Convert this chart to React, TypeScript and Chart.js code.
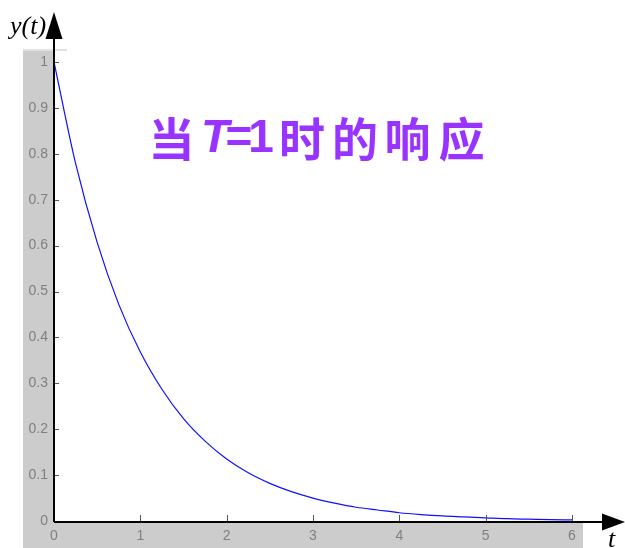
import React, { useEffect, useRef } from "react";
import { Chart, registerables } from "chart.js";

Chart.register(...registerables);

const tValues = [0, 0.25, 0.5, 0.75, 1, 1.25, 1.5, 1.75, 2, 2.25, 2.5, 2.75, 3, 3.25, 3.5, 3.75, 4, 4.25, 4.5, 4.75, 5, 5.25, 5.5, 5.75, 6];
const yValues = [1, 0.779, 0.607, 0.472, 0.368, 0.287, 0.223, 0.174, 0.135, 0.105, 0.082, 0.064, 0.05, 0.039, 0.03, 0.024, 0.018, 0.014, 0.011, 0.009, 0.007, 0.005, 0.004, 0.003, 0.0025];

const xTicks = [0, 1, 2, 3, 4, 5, 6];
const yTicks = [0, 0.1, 0.2, 0.3, 0.4, 0.5, 0.6, 0.7, 0.8, 0.9, 1];

const titleParts = [
  { text: "当", latin: false, italic: false },
  { text: "T", latin: true, italic: true },
  { text: "=", latin: true, italic: false },
  { text: "1", latin: true, italic: false },
  { text: "时", latin: false, italic: false },
  { text: "的", latin: false, italic: false },
  { text: "响", latin: false, italic: false },
  { text: "应", latin: false, italic: false },
];
const titleCenters = [171.5, 215, 239, 261, 302, 355, 407.5, 461.5];

const W = 625;
const H = 548;

const decorPlugin = {
  id: "decor",
  beforeDraw(chart: any) {
    const ctx = chart.ctx;
    const a = chart.chartArea;
    ctx.save();
    ctx.fillStyle = "#ffffff";
    ctx.fillRect(0, 0, W, H);
    ctx.fillStyle = "#cccccc";
    ctx.fillRect(23, 50, a.left - 23, H - 50);
    ctx.fillRect(23, a.bottom, 583 - 23, H - a.bottom);
    ctx.fillStyle = "#e2e2e2";
    ctx.fillRect(23, 49, 44, 2);
    ctx.restore();
  },
  afterDraw(chart: any) {
    const ctx = chart.ctx;
    const a = chart.chartArea;
    const xs = chart.scales.x;
    const ys = chart.scales.y;
    ctx.save();
    ctx.strokeStyle = "#555555";
    ctx.lineWidth = 1;
    ctx.beginPath();
    yTicks.forEach((v) => {
      const py = Math.round(ys.getPixelForValue(v)) + 0.5;
      ctx.moveTo(a.left, py);
      ctx.lineTo(a.left + 5, py);
    });
    xTicks.forEach((v) => {
      const px = Math.round(xs.getPixelForValue(v)) + 0.5;
      ctx.moveTo(px, a.bottom);
      ctx.lineTo(px, a.bottom - 6);
    });
    ctx.stroke();

    ctx.strokeStyle = "#000000";
    ctx.lineWidth = 2;
    ctx.beginPath();
    ctx.moveTo(a.left, a.bottom + 1);
    ctx.lineTo(604, a.bottom + 1);
    ctx.moveTo(a.left, a.bottom + 1);
    ctx.lineTo(a.left, 38);
    ctx.stroke();

    ctx.fillStyle = "#000000";
    ctx.beginPath();
    ctx.moveTo(a.left, 12);
    ctx.lineTo(a.left - 8.5, 39);
    ctx.lineTo(a.left + 8.5, 39);
    ctx.closePath();
    ctx.fill();
    ctx.beginPath();
    ctx.moveTo(625, a.bottom + 1);
    ctx.lineTo(602, a.bottom + 1 - 8.5);
    ctx.lineTo(602, a.bottom + 1 + 8.5);
    ctx.closePath();
    ctx.fill();

    ctx.fillStyle = "#000000";
    ctx.font = "italic 26px 'Liberation Serif', 'DejaVu Serif', serif";
    ctx.textAlign = "left";
    ctx.textBaseline = "alphabetic";
    ctx.fillText("y(t)", 10, 34);
    ctx.fillText("t", 608, 547);

    ctx.fillStyle = "#9933ff";
    ctx.textAlign = "center";
    ctx.textBaseline = "middle";
    titleParts.forEach((p, i) => {
      if (p.latin) {
        ctx.font = (p.italic ? "italic " : "") + "bold 46px 'Liberation Sans', Arial, sans-serif";
      } else {
        ctx.font = "bold 46px 'Noto Sans CJK SC', sans-serif";
      }
      ctx.fillText(p.text, titleCenters[i], 139);
    });
    ctx.restore();
  },
};

export default function App() {
  const ref = useRef<HTMLCanvasElement | null>(null);
  useEffect(() => {
    if (!ref.current) return;
    const chart = new Chart(ref.current, {
      type: "line",
      data: {
        datasets: [
          {
            data: tValues.map((t, i) => ({ x: t, y: yValues[i] })),
            borderColor: "#1010ff",
            borderWidth: 1.2,
            pointRadius: 0,
            cubicInterpolationMode: "monotone",
            fill: false,
          },
        ],
      },
      options: {
        animation: false,
        responsive: false,
        maintainAspectRatio: false,
        events: [],
        layout: { padding: { left: 23, right: 53, top: 62, bottom: 0 } },
        plugins: { legend: { display: false }, tooltip: { enabled: false }, title: { display: false } },
        scales: {
          x: {
            type: "linear",
            min: 0,
            max: 6,
            grid: { display: false, drawTicks: false },
            border: { display: false },
            afterFit: (s: any) => {
              s.height = 27;
            },
            afterBuildTicks: (s: any) => {
              s.ticks = xTicks.map((v) => ({ value: v }));
            },
            ticks: {
              color: "#808080",
              font: { family: "'Liberation Sans', Arial, sans-serif", size: 14 },
              padding: 7,
              maxRotation: 0,
            },
          },
          y: {
            type: "linear",
            min: 0,
            max: 1,
            grid: { display: false, drawTicks: false },
            border: { display: false },
            afterFit: (s: any) => {
              s.width = 31;
            },
            afterBuildTicks: (s: any) => {
              s.ticks = yTicks.map((v) => ({ value: v }));
            },
            ticks: {
              color: "#808080",
              font: { family: "'Liberation Sans', Arial, sans-serif", size: 14 },
              padding: 6,
              callback: (v: any) => String(Math.round(Number(v) * 10) / 10),
            },
          },
        },
      },
      plugins: [decorPlugin],
    });
    return () => chart.destroy();
  }, []);
  return (
    <div style={{ position: "absolute", left: 0, top: 0, width: W, height: H }}>
      <canvas ref={ref} width={W} height={H} style={{ display: "block" }} />
    </div>
  );
}
